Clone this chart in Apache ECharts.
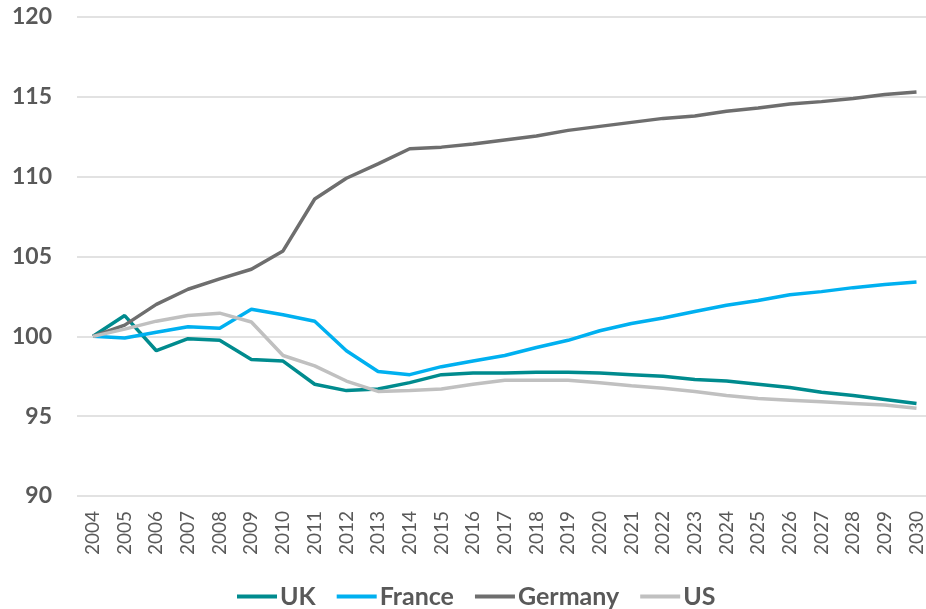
<!DOCTYPE html>
<html>
<head>
<meta charset="utf-8">
<script src="https://cdn.jsdelivr.net/npm/echarts@6/dist/echarts.min.js"></script>
<style>
html, body { margin: 0; padding: 0; background: #fff; }
#chart { width: 926px; height: 609px; }
</style>
</head>
<body>
<div id="chart"></div>
<script>
var years = ["2004","2005","2006","2007","2008","2009","2010","2011","2012","2013","2014","2015","2016","2017","2018","2019","2020","2021","2022","2023","2024","2025","2026","2027","2028","2029","2030"];

var uk      = [100, 101.3, 99.1, 99.85, 99.75, 98.55, 98.45, 97.0, 96.6, 96.7, 97.1, 97.6, 97.7, 97.7, 97.75, 97.75, 97.7, 97.6, 97.5, 97.3, 97.2, 97.0, 96.8, 96.5, 96.3, 96.05, 95.8];
var france  = [100, 99.9, 100.25, 100.6, 100.5, 101.7, 101.35, 100.95, 99.1, 97.8, 97.6, 98.1, 98.45, 98.8, 99.3, 99.75, 100.35, 100.8, 101.15, 101.55, 101.95, 102.25, 102.6, 102.8, 103.05, 103.25, 103.4];
var germany = [100, 100.7, 102.0, 102.95, 103.6, 104.2, 105.35, 108.6, 109.9, 110.8, 111.75, 111.85, 112.05, 112.3, 112.55, 112.9, 113.15, 113.4, 113.65, 113.8, 114.1, 114.3, 114.55, 114.7, 114.9, 115.15, 115.3];
var us      = [100, 100.45, 100.95, 101.3, 101.45, 100.9, 98.8, 98.15, 97.2, 96.55, 96.6, 96.7, 97.0, 97.25, 97.25, 97.25, 97.1, 96.9, 96.75, 96.55, 96.3, 96.1, 96.0, 95.9, 95.8, 95.7, 95.5];

var names  = ["UK", "France", "Germany", "US"];
var colors = ["#008B8E", "#00B0F0", "#6E6E6E", "#C0C0C0"];
var values = [uk, france, germany, us];

var chart = echarts.init(document.getElementById("chart"));

var series = [];
for (var i = 0; i < names.length; i++) {
	series.push({
		name: names[i],
		type: "line",
		xAxisIndex: 1,
		yAxisIndex: 1,
		data: values[i],
		symbol: "none",
		lineStyle: { width: 3.5, color: colors[i] },
		itemStyle: { color: colors[i] }
	});
}

// grid 0: value labels and gridlines (full width), grid 1: the lines themselves
chart.setOption({
	animation: false,
	color: colors,
	grid: [
		{ left: 77, right: 0, top: 17, bottom: 113 },
		{ left: 93, right: 8, top: 17, bottom: 113 }
	],
	legend: {
		left: 232,
		top: 579,
		icon: "rect",
		itemWidth: 40,
		itemHeight: 4,
		itemGap: 21,
		textStyle: { color: "#595959", fontSize: 25, fontWeight: "bold", fontFamily: "Lato", padding: [0, 0, 0, -2] },
		data: names
	},
	xAxis: [
		{
			gridIndex: 0,
			type: "category",
			data: years,
			show: false
		},
		{
			gridIndex: 1,
			type: "category",
			data: years,
			boundaryGap: false,
			axisLine: { show: false },
			axisTick: { show: false },
			axisLabel: { rotate: 90, color: "#595959", fontSize: 19, fontFamily: "Lato", margin: 15 }
		}
	],
	yAxis: [
		{
			gridIndex: 0,
			type: "value",
			min: 90,
			max: 120,
			interval: 5,
			axisLine: { show: false },
			axisTick: { show: false },
			axisLabel: { color: "#595959", fontSize: 23, fontWeight: "bold", fontFamily: "Lato", margin: 25 },
			splitLine: { lineStyle: { color: "#D9D9D9", width: 1.5 } }
		},
		{
			gridIndex: 1,
			type: "value",
			min: 90,
			max: 120,
			interval: 5,
			show: false,
			splitLine: { show: false }
		}
	],
	series: series
});
</script>
</body>
</html>
